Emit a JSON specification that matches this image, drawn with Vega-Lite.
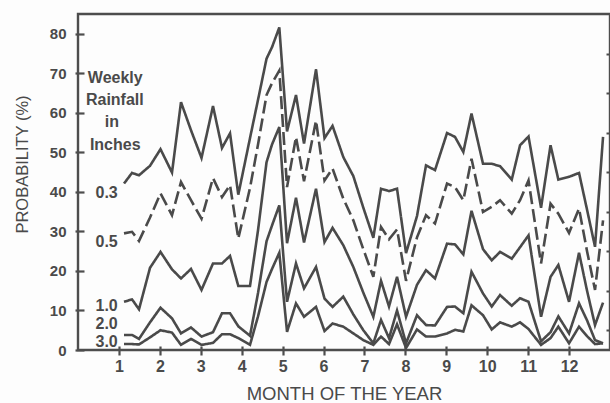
{
 "$schema": "https://vega.github.io/schema/vega-lite/v6.json",
 "width": 532, "height": 336,
 "autosize": "none",
 "padding": {"left": 78, "top": 14, "right": 0, "bottom": 53},
 "background": "#fdfdfd",
 "config": {"view": {"stroke": "#4d4d4d", "strokeWidth": 2.4}, "font": "Liberation Sans"},
 "resolve": {"axis": {"x": "independent", "y": "independent"}},
 "datasets": {
  "weekly": [
   {"m":1.124,"k":"0.3","p":42.1},{"m":1.124,"k":"0.5","p":29.5},{"m":1.124,"k":"1.0","p":12.2},{"m":1.124,"k":"2.0","p":3.8},{"m":1.124,"k":"3.0","p":1.5},
   {"m":1.320,"k":"0.3","p":44.8},{"m":1.320,"k":"0.5","p":29.9},{"m":1.320,"k":"1.0","p":12.8},{"m":1.320,"k":"2.0","p":3.8},{"m":1.320,"k":"3.0","p":1.5},
   {"m":1.491,"k":"0.3","p":44.2},{"m":1.491,"k":"0.5","p":27.6},{"m":1.491,"k":"1.0","p":10.3},{"m":1.491,"k":"2.0","p":2.8},{"m":1.491,"k":"3.0","p":1.4},
   {"m":1.760,"k":"0.3","p":46.6},{"m":1.760,"k":"0.5","p":33.5},{"m":1.760,"k":"1.0","p":20.8},{"m":1.760,"k":"2.0","p":7.0},{"m":1.760,"k":"3.0","p":3.2},
   {"m":2.016,"k":"0.3","p":50.8},{"m":2.016,"k":"0.5","p":39.6},{"m":2.016,"k":"1.0","p":24.8},{"m":2.016,"k":"2.0","p":10.7},{"m":2.016,"k":"3.0","p":5.0},
   {"m":2.297,"k":"0.3","p":44.9},{"m":2.297,"k":"0.5","p":34.1},{"m":2.297,"k":"1.0","p":20.4},{"m":2.297,"k":"2.0","p":8.0},{"m":2.297,"k":"3.0","p":4.4},
   {"m":2.517,"k":"0.3","p":62.7},{"m":2.517,"k":"0.5","p":42.5},{"m":2.517,"k":"1.0","p":18.1},{"m":2.517,"k":"2.0","p":4.2},{"m":2.517,"k":"3.0","p":1.3},
   {"m":2.761,"k":"0.3","p":55.6},{"m":2.761,"k":"0.5","p":37.9},{"m":2.761,"k":"1.0","p":20.5},{"m":2.761,"k":"2.0","p":5.7},{"m":2.761,"k":"3.0","p":2.8},
   {"m":3.018,"k":"0.3","p":48.6},{"m":3.018,"k":"0.5","p":33.2},{"m":3.018,"k":"1.0","p":15.2},{"m":3.018,"k":"2.0","p":3.4},{"m":3.018,"k":"3.0","p":1.3},
   {"m":3.299,"k":"0.3","p":61.7},{"m":3.299,"k":"0.5","p":43.5},{"m":3.299,"k":"1.0","p":21.9},{"m":3.299,"k":"2.0","p":4.5},{"m":3.299,"k":"3.0","p":1.8},
   {"m":3.519,"k":"0.3","p":51.1},{"m":3.519,"k":"0.5","p":38.7},{"m":3.519,"k":"1.0","p":21.9},{"m":3.519,"k":"2.0","p":9.3},{"m":3.519,"k":"3.0","p":4.0},
   {"m":3.715,"k":"0.3","p":54.8},{"m":3.715,"k":"0.5","p":41.7},{"m":3.715,"k":"1.0","p":23.8},{"m":3.715,"k":"2.0","p":9.3},{"m":3.715,"k":"3.0","p":4.0},
   {"m":3.917,"k":"0.3","p":39.3},{"m":3.917,"k":"0.5","p":28.2},{"m":3.917,"k":"1.0","p":16.2},{"m":3.917,"k":"2.0","p":6.0},{"m":3.917,"k":"3.0","p":3.0},
   {"m":4.203,"k":"0.3","p":53.6},{"m":4.203,"k":"0.5","p":41.0},{"m":4.203,"k":"1.0","p":16.2},{"m":4.203,"k":"2.0","p":3.6},{"m":4.203,"k":"3.0","p":1.3},
   {"m":4.399,"k":"0.3","p":63.3},{"m":4.399,"k":"0.5","p":52.0},{"m":4.399,"k":"1.0","p":30.3},{"m":4.399,"k":"2.0","p":14.4},{"m":4.399,"k":"3.0","p":8.5},
   {"m":4.607,"k":"0.3","p":73.7},{"m":4.607,"k":"0.5","p":64.5},{"m":4.607,"k":"1.0","p":47.5},{"m":4.607,"k":"2.0","p":27.5},{"m":4.607,"k":"3.0","p":17.2},
   {"m":4.741,"k":"0.3","p":76.6},{"m":4.741,"k":"0.5","p":67.5},{"m":4.741,"k":"1.0","p":52.0},{"m":4.741,"k":"2.0","p":31.5},{"m":4.741,"k":"3.0","p":20.5},
   {"m":4.919,"k":"0.3","p":81.6},{"m":4.919,"k":"0.5","p":70.7},{"m":4.919,"k":"1.0","p":56.4},{"m":4.919,"k":"2.0","p":36.6},{"m":4.919,"k":"3.0","p":24.6},
   {"m":5.108,"k":"0.3","p":55.3},{"m":5.108,"k":"0.5","p":41.2},{"m":5.108,"k":"1.0","p":27.0},{"m":5.108,"k":"2.0","p":12.2},{"m":5.108,"k":"3.0","p":4.6},
   {"m":5.327,"k":"0.3","p":64.5},{"m":5.327,"k":"0.5","p":53.9},{"m":5.327,"k":"1.0","p":38.5},{"m":5.327,"k":"2.0","p":21.9},{"m":5.327,"k":"3.0","p":11.8},
   {"m":5.523,"k":"0.3","p":52.2},{"m":5.523,"k":"0.5","p":42.7},{"m":5.523,"k":"1.0","p":27.2},{"m":5.523,"k":"2.0","p":15.6},{"m":5.523,"k":"3.0","p":8.4},
   {"m":5.816,"k":"0.3","p":71.0},{"m":5.816,"k":"0.5","p":58.0},{"m":5.816,"k":"1.0","p":40.8},{"m":5.816,"k":"2.0","p":21.0},{"m":5.816,"k":"3.0","p":10.9},
   {"m":6.024,"k":"0.3","p":53.6},{"m":6.024,"k":"0.5","p":42.9},{"m":6.024,"k":"1.0","p":27.3},{"m":6.024,"k":"2.0","p":13.0},{"m":6.024,"k":"3.0","p":4.8},
   {"m":6.220,"k":"0.3","p":56.7},{"m":6.220,"k":"0.5","p":45.9},{"m":6.220,"k":"1.0","p":30.9},{"m":6.220,"k":"2.0","p":10.9},{"m":6.220,"k":"3.0","p":6.7},
   {"m":6.483,"k":"0.3","p":48.8},{"m":6.483,"k":"0.5","p":38.3},{"m":6.483,"k":"1.0","p":26.5},{"m":6.483,"k":"2.0","p":13.5},{"m":6.483,"k":"3.0","p":5.9},
   {"m":6.728,"k":"0.3","p":44.0},{"m":6.728,"k":"0.5","p":32.8},{"m":6.728,"k":"1.0","p":21.0},{"m":6.728,"k":"2.0","p":9.0},{"m":6.728,"k":"3.0","p":4.2},
   {"m":6.972,"k":"0.3","p":36.0},{"m":6.972,"k":"0.5","p":25.5},{"m":6.972,"k":"1.0","p":14.5},{"m":6.972,"k":"2.0","p":5.0},{"m":6.972,"k":"3.0","p":2.5},
   {"m":7.217,"k":"0.3","p":28.4},{"m":7.217,"k":"0.5","p":18.5},{"m":7.217,"k":"1.0","p":8.4},{"m":7.217,"k":"2.0","p":1.7},{"m":7.217,"k":"3.0","p":1.3},
   {"m":7.405,"k":"0.3","p":40.8},{"m":7.405,"k":"0.5","p":31.1},{"m":7.405,"k":"1.0","p":17.5},{"m":7.405,"k":"2.0","p":7.6},{"m":7.405,"k":"3.0","p":3.4},
   {"m":7.600,"k":"0.3","p":40.2},{"m":7.600,"k":"0.5","p":28.0},{"m":7.600,"k":"1.0","p":11.0},{"m":7.600,"k":"2.0","p":3.0},{"m":7.600,"k":"3.0","p":1.5},
   {"m":7.796,"k":"0.3","p":40.8},{"m":7.796,"k":"0.5","p":30.5},{"m":7.796,"k":"1.0","p":18.5},{"m":7.796,"k":"2.0","p":10.0},{"m":7.796,"k":"3.0","p":6.5},
   {"m":8.016,"k":"0.3","p":24.5},{"m":8.016,"k":"0.5","p":17.5},{"m":8.016,"k":"1.0","p":8.4},{"m":8.016,"k":"2.0","p":1.7},{"m":8.016,"k":"3.0","p":0.5},
   {"m":8.284,"k":"0.3","p":33.9},{"m":8.284,"k":"0.5","p":28.5},{"m":8.284,"k":"1.0","p":16.5},{"m":8.284,"k":"2.0","p":8.8},{"m":8.284,"k":"3.0","p":5.2},
   {"m":8.504,"k":"0.3","p":46.7},{"m":8.504,"k":"0.5","p":34.1},{"m":8.504,"k":"1.0","p":20.2},{"m":8.504,"k":"2.0","p":6.3},{"m":8.504,"k":"3.0","p":3.4},
   {"m":8.724,"k":"0.3","p":45.5},{"m":8.724,"k":"0.5","p":32.0},{"m":8.724,"k":"1.0","p":18.1},{"m":8.724,"k":"2.0","p":6.2},{"m":8.724,"k":"3.0","p":3.4},
   {"m":9.018,"k":"0.3","p":54.9},{"m":9.018,"k":"0.5","p":42.1},{"m":9.018,"k":"1.0","p":26.9},{"m":9.018,"k":"2.0","p":10.9},{"m":9.018,"k":"3.0","p":4.2},
   {"m":9.213,"k":"0.3","p":53.9},{"m":9.213,"k":"0.5","p":41.2},{"m":9.213,"k":"1.0","p":26.7},{"m":9.213,"k":"2.0","p":11.0},{"m":9.213,"k":"3.0","p":5.1},
   {"m":9.416,"k":"0.3","p":50.1},{"m":9.416,"k":"0.5","p":37.9},{"m":9.416,"k":"1.0","p":24.2},{"m":9.416,"k":"2.0","p":9.3},{"m":9.416,"k":"3.0","p":4.7},
   {"m":9.616,"k":"0.3","p":59.8},{"m":9.616,"k":"0.5","p":48.4},{"m":9.616,"k":"1.0","p":35.2},{"m":9.616,"k":"2.0","p":19.8},{"m":9.616,"k":"3.0","p":11.3},
   {"m":9.897,"k":"0.3","p":47.1},{"m":9.897,"k":"0.5","p":34.9},{"m":9.897,"k":"1.0","p":25.5},{"m":9.897,"k":"2.0","p":14.3},{"m":9.897,"k":"3.0","p":8.8},
   {"m":10.110,"k":"0.3","p":47.1},{"m":10.110,"k":"0.5","p":36.2},{"m":10.110,"k":"1.0","p":22.7},{"m":10.110,"k":"2.0","p":11.0},{"m":10.110,"k":"3.0","p":5.2},
   {"m":10.313,"k":"0.3","p":46.5},{"m":10.313,"k":"0.5","p":37.9},{"m":10.313,"k":"1.0","p":24.8},{"m":10.313,"k":"2.0","p":13.9},{"m":10.313,"k":"3.0","p":7.0},
   {"m":10.599,"k":"0.3","p":43.1},{"m":10.599,"k":"0.5","p":34.5},{"m":10.599,"k":"1.0","p":23.1},{"m":10.599,"k":"2.0","p":11.2},{"m":10.599,"k":"3.0","p":5.9},
   {"m":10.802,"k":"0.3","p":51.8},{"m":10.802,"k":"0.5","p":37.9},{"m":10.802,"k":"1.0","p":26.0},{"m":10.802,"k":"2.0","p":13.1},{"m":10.802,"k":"3.0","p":7.0},
   {"m":11.009,"k":"0.3","p":54.0},{"m":11.009,"k":"0.5","p":42.9},{"m":11.009,"k":"1.0","p":29.0},{"m":11.009,"k":"2.0","p":12.2},{"m":11.009,"k":"3.0","p":5.3},
   {"m":11.315,"k":"0.3","p":36.0},{"m":11.315,"k":"0.5","p":21.9},{"m":11.315,"k":"1.0","p":8.4},{"m":11.315,"k":"2.0","p":2.2},{"m":11.315,"k":"3.0","p":1.3},
   {"m":11.547,"k":"0.3","p":51.8},{"m":11.547,"k":"0.5","p":37.0},{"m":11.547,"k":"1.0","p":18.5},{"m":11.547,"k":"2.0","p":4.5},{"m":11.547,"k":"3.0","p":3.0},
   {"m":11.738,"k":"0.3","p":43.1},{"m":11.738,"k":"0.5","p":34.5},{"m":11.738,"k":"1.0","p":21.5},{"m":11.738,"k":"2.0","p":8.5},{"m":11.738,"k":"3.0","p":5.9},
   {"m":11.999,"k":"0.3","p":43.8},{"m":11.999,"k":"0.5","p":29.6},{"m":11.999,"k":"1.0","p":12.2},{"m":11.999,"k":"2.0","p":4.2},{"m":11.999,"k":"3.0","p":1.7},
   {"m":12.243,"k":"0.3","p":44.8},{"m":12.243,"k":"0.5","p":35.8},{"m":12.243,"k":"1.0","p":24.6},{"m":12.243,"k":"2.0","p":11.8},{"m":12.243,"k":"3.0","p":5.9},
   {"m":12.439,"k":"0.3","p":35.5},{"m":12.439,"k":"0.5","p":25.0},{"m":12.439,"k":"1.0","p":15.0},{"m":12.439,"k":"2.0","p":7.5},{"m":12.439,"k":"3.0","p":3.5},
   {"m":12.634,"k":"0.3","p":26.1},{"m":12.634,"k":"0.5","p":15.2},{"m":12.634,"k":"1.0","p":6.3},{"m":12.634,"k":"2.0","p":2.5},{"m":12.634,"k":"3.0","p":1.5},
   {"m":12.830,"k":"0.3","p":53.9},{"m":12.830,"k":"0.5","p":32.8},{"m":12.830,"k":"1.0","p":12.0},{"m":12.830,"k":"2.0","p":1.7},{"m":12.830,"k":"3.0","p":1.7}
  ],
  "labels": [
   {"t":"Weekly","m":0.91,"p":68.9},
   {"t":"Rainfall","m":0.90,"p":63.2},
   {"t":"in","m":0.83,"p":57.6},
   {"t":"Inches","m":0.91,"p":51.9},
   {"t":"0.3","m":0.70,"p":39.6},
   {"t":"0.5","m":0.70,"p":27.4},
   {"t":"1.0","m":0.70,"p":11.1},
   {"t":"2.0","m":0.70,"p":6.5},
   {"t":"3.0","m":0.70,"p":1.9}
  ]
 },
 "layer": [
  {
   "data": {"name": "weekly"},
   "mark": {"type": "line", "color": "#4a4a4a", "strokeWidth": 2.6},
   "encoding": {
    "x": {"field": "m", "type": "quantitative",
      "scale": {"domain": [0, 13], "nice": false, "zero": false},
      "axis": {"values": [1,2,3,4,5,6,7,8,9,10,11,12], "title": "MONTH OF THE YEAR",
        "domain": false, "grid": false, "offset": -4, "tickSize": 9, "tickWidth": 2.2, "tickColor": "#4d4d4d",
        "labelFontSize": 16, "labelFontWeight": "bold", "labelColor": "#4a4a4a", "labelPadding": 3,
        "titleFontSize": 18.5, "titleFontWeight": "normal", "titleColor": "#4a4a4a",
        "titleBaseline": "alphabetic", "titleY": 53}},
    "y": {"field": "p", "type": "quantitative",
      "scale": {"domain": [0, 85], "nice": false},
      "axis": {"values": [0,10,20,30,40,50,60,70,80], "title": "PROBABILITY (%)",
        "domain": false, "grid": false, "offset": -6, "tickSize": 9, "tickWidth": 2.2, "tickColor": "#4d4d4d",
        "labelFontSize": 15, "labelFontWeight": "bold", "labelColor": "#4a4a4a", "labelPadding": 9,
        "titleFontSize": 16.5, "titleFontWeight": "normal", "titleColor": "#4a4a4a",
        "titleX": -62, "titleY": 150, "titleBaseline": "middle", "titleAngle": -90}},
    "strokeDash": {"field": "k", "type": "nominal",
      "scale": {"domain": ["0.3","0.5","1.0","2.0","3.0"], "range": [[1,0],[13,5],[1,0],[1,0],[1,0]]},
      "legend": null},
    "detail": {"field": "k", "type": "nominal"}
   }
  },
  {
   "data": {"name": "labels"},
   "mark": {"type": "text", "fontWeight": "bold", "fontSize": 16, "color": "#4a4a4a", "baseline": "middle", "align": "center"},
   "encoding": {
    "x": {"field": "m", "type": "quantitative", "axis": null},
    "y": {"field": "p", "type": "quantitative",
      "axis": {"values": [5,15,25,35,45,55,65,75], "labels": false, "title": null, "domain": false, "grid": false,
        "offset": -4, "tickSize": 4, "tickWidth": 2, "tickColor": "#4d4d4d"}},
    "text": {"field": "t"}
   }
  }
 ]
}
